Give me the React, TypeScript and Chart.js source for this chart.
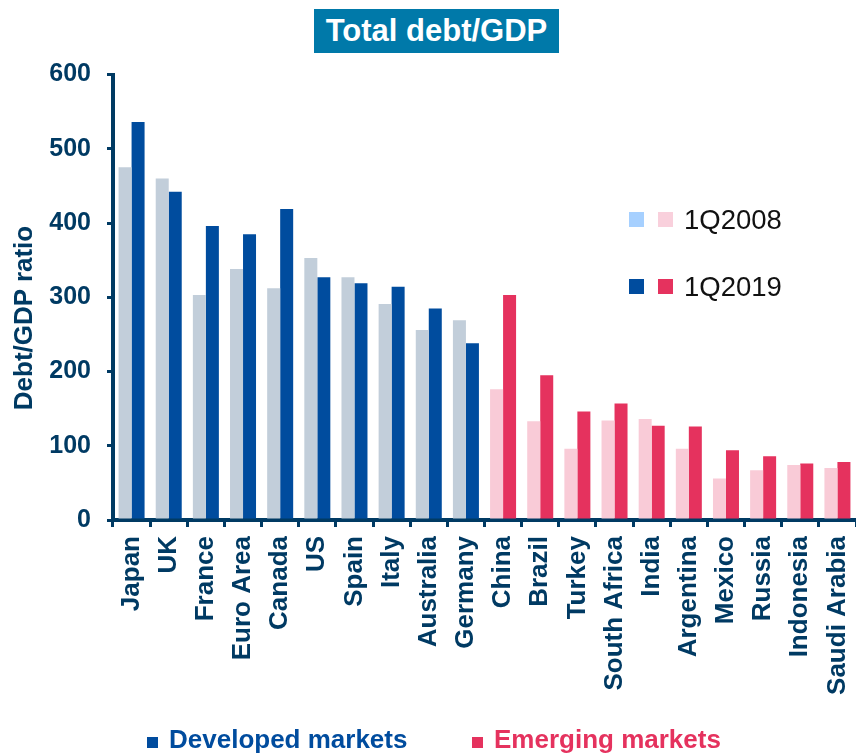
import React, { useEffect, useRef } from "react";
import { Chart, registerables } from "chart.js";

Chart.register(...registerables);

const categories = [
  "Japan", "UK", "France", "Euro Area", "Canada", "US", "Spain", "Italy", "Australia", "Germany",
  "China", "Brazil", "Turkey", "South Africa", "India", "Argentina", "Mexico", "Russia", "Indonesia", "Saudi Arabia",
];
const developedCount = 10;
const values2008 = [475, 460, 303, 338, 312, 353, 327, 291, 256, 269, 176, 133, 96, 134, 136, 96, 56, 67, 74, 70];
const values2019 = [536, 442, 396, 385, 419, 327, 319, 314, 285, 238, 303, 195, 146, 157, 127, 126, 94, 86, 76, 78];
const seriesLabels = ["1Q2008", "1Q2019"];
const groupLabels = ["Developed markets", "Emerging markets"];
const chartTitle = "Total debt/GDP";
const yTitle = "Debt/GDP ratio";

const NAVY = "#003A63";
const DEV_2008 = "#C2CEDA";
const DEV_2019 = "#004C9E";
const EM_2008 = "#F9CBD7";
const EM_2019 = "#E5325E";
const LEG_LIGHTBLUE = "#A6D0FF";
const LEG_PINK = "#F9D0DC";
const FONT = "'Liberation Sans', Arial, Helvetica, sans-serif";

export default function App() {
  const canvasRef = useRef<HTMLCanvasElement | null>(null);

  useEffect(() => {
    const canvas = canvasRef.current;
    if (!canvas) return;
    const chart = new Chart(canvas, {
      type: "bar",
      data: {
        labels: categories,
        datasets: [
          {
            label: seriesLabels[0],
            data: values2008,
            backgroundColor: categories.map((_, i) => (i < developedCount ? DEV_2008 : EM_2008)),
            categoryPercentage: 0.7,
            barPercentage: 1.0,
          },
          {
            label: seriesLabels[1],
            data: values2019,
            backgroundColor: categories.map((_, i) => (i < developedCount ? DEV_2019 : EM_2019)),
            categoryPercentage: 0.7,
            barPercentage: 1.0,
          },
        ],
      },
      options: {
        animation: false,
        responsive: false,
        maintainAspectRatio: false,
        layout: { padding: { top: 74.5, left: 0, right: 0, bottom: 0 } },
        plugins: {
          legend: { display: false },
          tooltip: { enabled: false },
          title: { display: false },
        },
        scales: {
          x: {
            offset: true,
            grid: {
              display: true,
              offset: true,
              drawOnChartArea: false,
              drawTicks: true,
              tickLength: 7,
              color: NAVY,
              lineWidth: 3,
            },
            border: { display: true, color: NAVY, width: 4 },
            ticks: {
              autoSkip: false,
              minRotation: 90,
              maxRotation: 90,
              padding: 9,
              color: NAVY,
              font: { family: FONT, size: 26, weight: "bold" },
            },
            afterFit: (scale: any) => {
              scale.height = 236;
              scale.paddingRight = 0;
              scale.paddingLeft = 0;
            },
          },
          y: {
            min: 0,
            max: 600,
            grid: {
              display: true,
              drawOnChartArea: false,
              drawTicks: true,
              tickLength: 6,
              color: NAVY,
              lineWidth: 3,
            },
            border: { display: true, color: NAVY, width: 4 },
            ticks: {
              stepSize: 100,
              padding: 16,
              color: NAVY,
              font: { family: FONT, size: 25, weight: "bold" },
            },
            afterFit: (scale: any) => {
              scale.width = 113;
            },
          },
        },
      },
    });
    return () => chart.destroy();
  }, []);

  const sq = (left: number, top: number, size: number, color: string): React.CSSProperties => ({
    position: "absolute",
    left,
    top,
    width: size,
    height: size,
    background: color,
  });

  return (
    <div style={{ position: "absolute", left: 0, top: 0, width: 856, height: 756, background: "#fff", overflow: "hidden", fontFamily: FONT }}>
      <canvas ref={canvasRef} width={856} height={756} style={{ position: "absolute", left: 0, top: 0, width: 856, height: 756 }} />
      <div
        style={{
          position: "absolute",
          left: 314,
          top: 9,
          width: 245,
          height: 44,
          background: "#0079A9",
          color: "#fff",
          fontWeight: "bold",
          fontSize: 31,
          lineHeight: "44px",
          textAlign: "center",
          whiteSpace: "nowrap",
        }}
      >
        {chartTitle}
      </div>
      <div
        style={{
          position: "absolute",
          left: 23 - 120,
          top: 318 - 15,
          width: 240,
          height: 30,
          lineHeight: "30px",
          textAlign: "center",
          transform: "rotate(-90deg)",
          color: NAVY,
          fontWeight: "bold",
          fontSize: 26,
          whiteSpace: "nowrap",
        }}
      >
        {yTitle}
      </div>
      <div style={sq(629, 212, 15, LEG_LIGHTBLUE)} />
      <div style={sq(658, 212, 15, LEG_PINK)} />
      <div style={{ position: "absolute", left: 684, top: 204, fontSize: 27.5, lineHeight: "32px", color: "#111", whiteSpace: "nowrap" }}>
        {seriesLabels[0]}
      </div>
      <div style={sq(629, 279, 15, DEV_2019)} />
      <div style={sq(658, 279, 15, EM_2019)} />
      <div style={{ position: "absolute", left: 684, top: 271, fontSize: 27.5, lineHeight: "32px", color: "#111", whiteSpace: "nowrap" }}>
        {seriesLabels[1]}
      </div>
      <div style={sq(147, 737, 11, DEV_2019)} />
      <div style={{ position: "absolute", left: 169, top: 724, fontSize: 26, lineHeight: "30px", fontWeight: "bold", color: DEV_2019, whiteSpace: "nowrap" }}>
        {groupLabels[0]}
      </div>
      <div style={sq(472, 737, 11, EM_2019)} />
      <div style={{ position: "absolute", left: 494, top: 724, fontSize: 26, lineHeight: "30px", fontWeight: "bold", color: EM_2019, whiteSpace: "nowrap" }}>
        {groupLabels[1]}
      </div>
    </div>
  );
}
